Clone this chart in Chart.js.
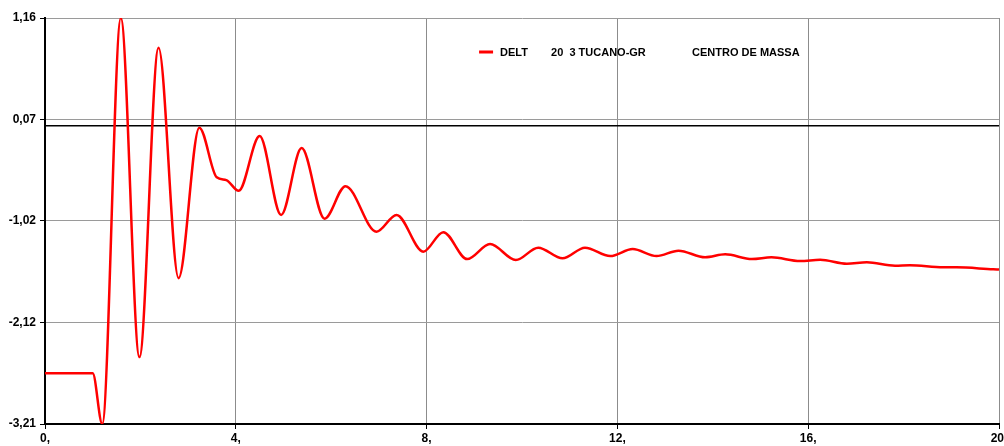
<!DOCTYPE html>
<html>
<head>
<meta charset="utf-8">
<script src="https://cdn.jsdelivr.net/npm/chart.js@4"></script>
<style>
  html, body { margin: 0; padding: 0; background: #fff; }
  #wrap { width: 1004px; height: 446px; position: relative; }
</style>
</head>
<body>
<div id="wrap"><canvas id="deltChart"></canvas></div>
<script>
// time (s) and DELT values (extremes + a few shape points)
const tempo = [0, 1.0, 1.2, 1.59, 1.98, 2.38, 2.8, 3.235, 3.6, 3.8, 4.06, 4.5, 4.95, 5.38, 5.86, 6.3, 6.95, 7.37, 7.93,
    8.35, 8.85, 9.33, 9.87, 10.34, 10.85, 11.32, 11.85, 12.32, 12.82, 13.28, 13.84, 14.26, 14.82, 15.23, 15.83,
    16.25, 16.81, 17.23, 17.82, 18.13, 18.83, 19.11, 19.88, 20];
const delt = [-2.665, -2.665, -3.21, 1.16, -2.49, 0.84, -1.64, -0.02, -0.555, -0.585, -0.70, -0.11, -0.96, -0.24, -1.0, -0.65, -1.14, -0.96, -1.355,
    -1.145, -1.435, -1.273, -1.445, -1.312, -1.427, -1.312, -1.402, -1.327, -1.402, -1.345, -1.416, -1.384, -1.434, -1.416, -1.456,
    -1.442, -1.485, -1.47, -1.506, -1.502, -1.524, -1.524, -1.545, -1.547];

const yTicks = [1.16, 0.07, -1.02, -2.12, -3.21];
const yTickLabels = ['1,16', '0,07', '-1,02', '-2,12', '-3,21'];
const xTicks = [0, 4, 8, 12, 16, 20];
const xTickLabels = ['0,', '4,', '8,', '12,', '16,', '20,'];

const legendParts = ['DELT', '20  3 TUCANO-GR', 'CENTRO DE MASSA'];

const tickFont = { family: "'Liberation Sans', Arial, sans-serif", size: 12, weight: 'bold' };

// thick line at y = 0
const zeroLine = {
    id: 'zeroLine',
    beforeDatasetsDraw(chart) {
        const { ctx, chartArea, scales } = chart;
        const y = scales.y.getPixelForValue(0);
        ctx.save();
        ctx.strokeStyle = '#000';
        ctx.lineWidth = 1.5;
        ctx.beginPath();
        ctx.moveTo(chartArea.left, y);
        ctx.lineTo(chartArea.right, y);
        ctx.stroke();
        ctx.restore();
    }
};

// legend drawn inside the plot
const insideLegend = {
    id: 'insideLegend',
    afterDraw(chart) {
        const { ctx, chartArea } = chart;
        const w = chartArea.right - chartArea.left;
        const x0 = chartArea.left + w * 0.455;
        const y = chartArea.top + 34;
        ctx.save();
        ctx.strokeStyle = '#ff0000';
        ctx.lineWidth = 3;
        ctx.beginPath();
        ctx.moveTo(x0, y);
        ctx.lineTo(x0 + 14, y);
        ctx.stroke();
        ctx.fillStyle = '#000';
        ctx.font = "bold 11px 'Liberation Sans', Arial, sans-serif";
        ctx.textBaseline = 'middle';
        const offsets = [21, 72, 213];
        legendParts.forEach((t, i) => ctx.fillText(t, x0 + offsets[i], y + 1));
        ctx.restore();
    }
};

new Chart(document.getElementById('deltChart'), {
    type: 'line',
    data: {
        datasets: [{
            label: legendParts.join(' '),
            data: tempo.map((t, i) => ({ x: t, y: delt[i] })),
            borderColor: '#ff0000',
            borderWidth: 2.5,
            pointRadius: 0,
            cubicInterpolationMode: 'monotone',
            fill: false
        }]
    },
    options: {
        responsive: true,
        maintainAspectRatio: false,
        animation: false,
        layout: { padding: { top: 18, right: 0, left: 0, bottom: 0 } },
        plugins: {
            legend: { display: false },
            tooltip: { enabled: false }
        },
        scales: {
            x: {
                type: 'linear',
                min: 0,
                max: 20,
                afterBuildTicks: s => { s.ticks = xTicks.map(v => ({ value: v })); },
                afterFit: s => { s.height = 22; s.paddingRight = 5; },
                ticks: {
                    color: '#000',
                    font: tickFont,
                    padding: 2,
                    maxRotation: 0,
                    callback: (v, i) => xTickLabels[i]
                },
                grid: { color: '#8c8c8c', lineWidth: 1, tickLength: 5, tickColor: '#000' },
                border: { color: '#000', width: 2 }
            },
            y: {
                min: -3.21,
                max: 1.16,
                afterBuildTicks: s => { s.ticks = yTicks.map(v => ({ value: v })); },
                afterFit: s => { s.width = 45; },
                ticks: {
                    color: '#000',
                    font: tickFont,
                    padding: 4,
                    callback: (v, i) => yTickLabels[i]
                },
                grid: { color: '#9a9a9a', lineWidth: 1, tickLength: 5, tickColor: '#000' },
                border: { color: '#000', width: 2 }
            }
        }
    },
    plugins: [zeroLine, insideLegend]
});
</script>
</body>
</html>
